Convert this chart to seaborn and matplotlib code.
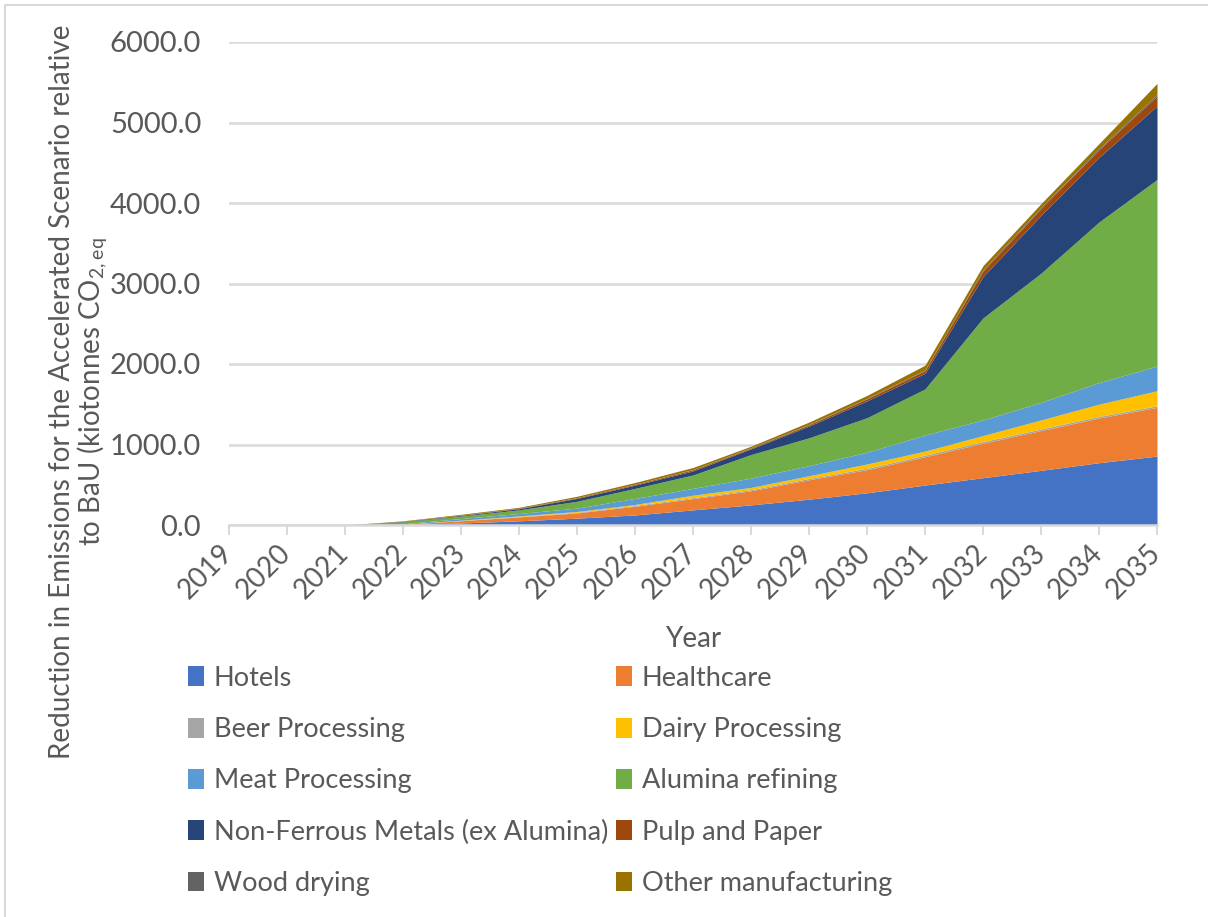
import numpy as np
import pandas as pd

import matplotlib
matplotlib.use("Agg")
import matplotlib.pyplot as plt
import seaborn as sns
from matplotlib.patches import Patch
from matplotlib.lines import Line2D


# -----------------------------
# DATA (kilotonnes CO2-eq)
# -----------------------------

years = [2019, 2020, 2021, 2022, 2023, 2024, 2025, 2026, 2027,
         2028, 2029, 2030, 2031, 2032, 2033, 2034, 2035]

hotels      = [0, 0, 0, 2, 25, 52, 85, 125, 188, 250, 321, 400, 496, 588, 679, 774, 856]
healthcare  = [0, 0, 0, 5, 28, 48, 65, 108, 140, 175, 241, 287, 352, 428, 494, 555, 605]
beer        = [0, 0, 0, 1, 3, 5, 8, 10, 12, 14, 16, 18, 20, 21, 20, 20, 20]
dairy       = [0, 0, 0, 1, 4, 8, 10, 12, 30, 28, 34, 53, 50, 74, 112, 152, 186]
meat        = [0, 0, 0, 6, 20, 30, 42, 75, 85, 116, 125, 146, 200, 194, 218, 268, 308]
alumina     = [0, 0, 0, 25, 30, 45, 85, 125, 167, 292, 346, 429, 572, 1267, 1605, 1995, 2317]
non_ferrous = [0, 0, 0, 5, 8, 15, 35, 40, 50, 71, 146, 209, 195, 514, 720, 803, 914]
pulp        = [0, 0, 0, 2, 4, 5, 8, 10, 14, 10, 16, 25, 33, 70, 82, 95, 123]
wood        = [0, 0, 0, 1, 1, 2, 2, 3, 4, 5, 6, 7, 8, 13, 17, 16, 21]
other       = [0, 0, 0, 4, 10, 10, 17, 20, 25, 18, 28, 36, 59, 53, 45, 60, 136]

sectors = ["Hotels", "Healthcare", "Beer Processing", "Dairy Processing",
           "Meat Processing", "Alumina refining", "Non-Ferrous Metals (ex Alumina)",
           "Pulp and Paper", "Wood drying", "Other manufacturing"]

colors = ["#4472C4", "#ED7D31", "#A5A5A5", "#FFC000", "#5B9BD5",
          "#70AD47", "#264478", "#9E480E", "#636363", "#997300"]

df = pd.DataFrame({
    "Year": years,
    "Hotels": hotels,
    "Healthcare": healthcare,
    "Beer Processing": beer,
    "Dairy Processing": dairy,
    "Meat Processing": meat,
    "Alumina refining": alumina,
    "Non-Ferrous Metals (ex Alumina)": non_ferrous,
    "Pulp and Paper": pulp,
    "Wood drying": wood,
    "Other manufacturing": other,
})


# -----------------------------
# STYLE
# -----------------------------

sns.set_theme(style="white")
plt.rcParams["font.family"] = ["Lato", "DejaVu Sans"]
plt.rcParams["mathtext.default"] = "regular"
text_col = "#595959"
grid_col = "#d9d9d9"


# -----------------------------
# STACKED AREA CHART
# -----------------------------

fig = plt.figure(figsize=(12.08, 9.17), dpi=100)
ax = fig.add_axes([229 / 1208, 1 - 525 / 917, 928 / 1208, 483 / 917])

x = np.arange(len(years))
ax.stackplot(x, [df[s] for s in sectors], colors=colors, linewidth=0)

ax.set_xlim(0, len(years) - 1)
ax.set_ylim(0, 6000)
ax.set_yticks(np.arange(0, 6001, 1000))
ax.set_yticklabels([f"{v:.1f}" for v in np.arange(0, 6001, 1000)])

ax.set_xticks(x)
ax.set_xticklabels([str(y) for y in years], rotation=45, ha="right",
                   va="center", rotation_mode="anchor")

ax.yaxis.grid(True, color=grid_col, linewidth=1.8)
ax.set_axisbelow(True)
for side in ["top", "right", "left"]:
    ax.spines[side].set_visible(False)
ax.spines["bottom"].set_color(grid_col)
ax.spines["bottom"].set_linewidth(1.8)

ax.tick_params(axis="y", length=0, pad=20, labelsize=21, labelcolor=text_col)
ax.tick_params(axis="x", length=7, width=1.5, color=grid_col, direction="out",
               pad=10, labelsize=20, labelcolor=text_col, bottom=True)

ax.set_xlabel("Year", fontsize=20, color=text_col)
ax.xaxis.label.set_va("center")
ax.xaxis.set_label_coords(0.5, (525 - 639) / 483)

fig.text(79 / 1208, 1 - 392 / 917,
         "Reduction in Emissions for the Accelerated Scenario relative\n"
         "to BaU (kiotonnes CO$_{2,eq}$",
         rotation=90, ha="center", va="center", multialignment="center",
         fontsize=20, color=text_col, linespacing=1.0)


# -----------------------------
# LEGEND (two columns, filled row-wise)
# -----------------------------

order = [0, 2, 4, 6, 8, 1, 3, 5, 7, 9]
handles = [Patch(facecolor=colors[i], edgecolor="none") for i in order]
labels = [sectors[i] for i in order]

fig.legend(handles, labels, loc="upper left",
           bbox_to_anchor=(177 / 1208, 1 - 655 / 917), ncol=2,
           frameon=False, fontsize=19.5, labelcolor=text_col,
           handlelength=0.6, handleheight=0.75, handletextpad=0.35,
           labelspacing=0.97, columnspacing=0.3, borderaxespad=0)

# light chart border (top and left)
fig.add_artist(Line2D([5 / 1208, 1], [1 - 5 / 917, 1 - 5 / 917],
                      transform=fig.transFigure, color=grid_col, linewidth=1.5))
fig.add_artist(Line2D([5 / 1208, 5 / 1208], [0, 1 - 5 / 917],
                      transform=fig.transFigure, color=grid_col, linewidth=1.5))

fig.savefig("out.png", dpi=100, facecolor="white")
